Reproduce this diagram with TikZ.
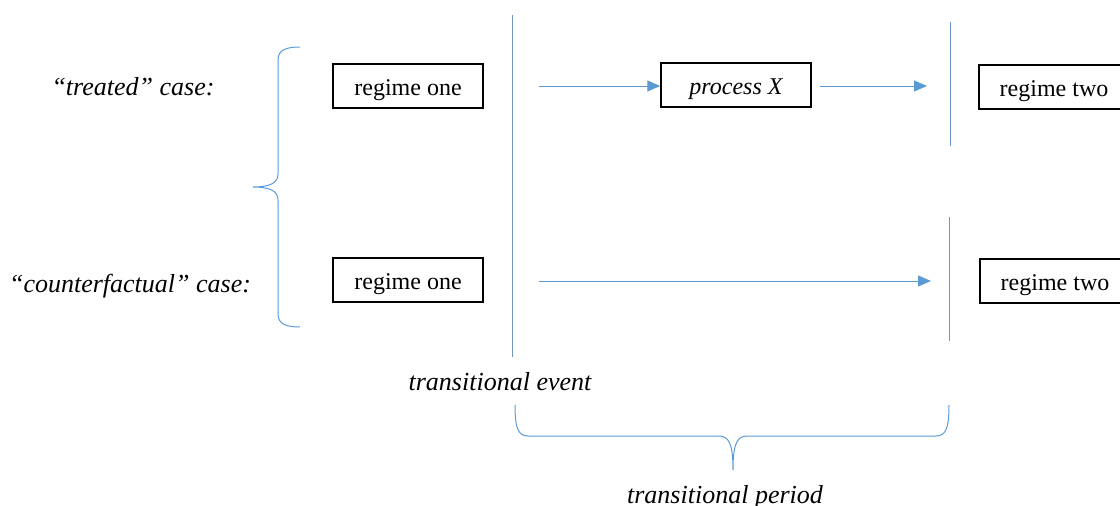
\documentclass[tikz,border=0pt]{standalone}
\usepackage{fontspec}
\setmainfont{Liberation Serif}
\usetikzlibrary{arrows.meta}
\definecolor{lineblue}{RGB}{91,155,213}
\definecolor{rulegray}{RGB}{110,150,195}
\begin{document}
\begin{tikzpicture}[x=1pt,y=-1pt,
  box/.style={draw=black,line width=1.5pt,minimum width=150pt,minimum height=44pt,inner sep=0pt,text height=20pt,text depth=2pt,font=\fontsize{24}{27}\selectfont},
  lbl/.style={font=\fontsize{26}{30}\selectfont\itshape,inner sep=0pt,anchor=base},
  flow/.style={draw=lineblue,line width=1pt,-{Triangle[length=13pt,width=11pt]}},
  rule/.style={draw=rulegray,line width=1pt},
  brace/.style={draw=lineblue,line width=1pt}]
\clip (0,0) rectangle (1120,506);
\useasboundingbox (0,0) rectangle (1120,506);
% labels
\node[lbl] (treated) at (133,95) {“treated” case:};
\node[lbl] (counter) at (130,292) {“counterfactual” case:};
\node[lbl] (tevent) at (500,390) {transitional event};
\node[lbl] (tperiod) at (725,503) {transitional period};
% boxes
\node[box] (r1a) at (408,86) {regime one};
\node[box] (r1b) at (408,280) {regime one};
\node[box,font=\fontsize{24}{27}\selectfont\itshape] (px) at (736,85) {process X};
\node[box] (r2a) at (1054,87) {regime two};
\node[box] (r2b) at (1055,281) {regime two};
% vertical rules
\coordinate (ev1) at (512,15);
\coordinate (ev2) at (512,357);
\draw[rule] (ev1) -- (ev2);
\coordinate (ra1) at (950,22);
\coordinate (ra2) at (950,146);
\draw[rule] (ra1) -- (ra2);
\coordinate (rb1) at (949,217);
\coordinate (rb2) at (949,341);
\draw[rule] (rb1) -- (rb2);
% arrows
\coordinate (a1s) at (539,86);
\draw[flow] (a1s) -- (a1s -| px.west);
\coordinate (a2s) at (820,86);
\coordinate (a2e) at (927,86);
\draw[flow] (a2s) -- (a2e);
\coordinate (a3s) at (539,281);
\coordinate (a3e) at (931,281);
\draw[flow] (a3s) -- (a3e);
% left brace
\draw[brace] (300,47) .. controls (286,47) and (278,50) .. (278,60) -- (278,174)
  .. controls (278,183) and (270,187) .. (253,187)
  .. controls (270,187) and (278,191) .. (278,200) -- (278,314)
  .. controls (278,324) and (286,327) .. (300,327);
% bottom brace
\draw[brace] (515,405) .. controls (515,428) and (518,436) .. (528,436) -- (718,436)
  .. controls (728,436) and (733,441) .. (733,470)
  .. controls (733,441) and (738,436) .. (748,436) -- (936,436)
  .. controls (946,436) and (949,428) .. (949,405);
\end{tikzpicture}
\end{document}
